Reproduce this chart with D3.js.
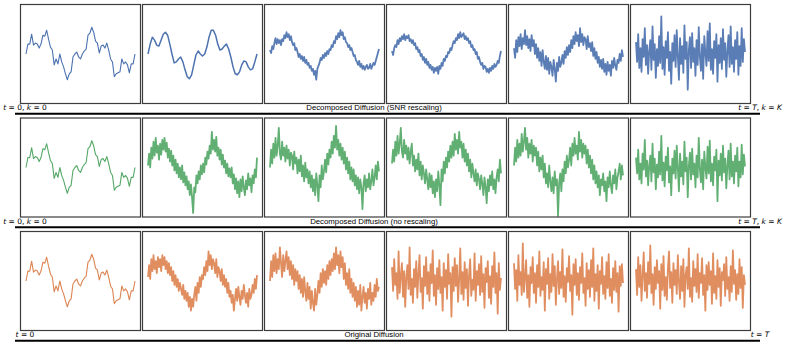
<!DOCTYPE html>
<html><head><meta charset="utf-8">
<script src="https://cdn.jsdelivr.net/npm/d3@7"></script>
<style>body{margin:0;background:#fff}svg{display:block}</style>
</head><body><svg id="c" width="785" height="346"></svg>
<script>
// ---------------- data ----------------
const rowTitles = ["Decomposed Diffusion (SNR rescaling)", "Decomposed Diffusion (no rescaling)", "Original Diffusion"];
const rowColors = ["#4c72b0", "#55a868", "#dd8452"];
const leftLabels = [
  [["t",1],[" = 0, ",0],["k",1],[" = 0",0]],
  [["t",1],[" = 0, ",0],["k",1],[" = 0",0]],
  [["t",1],[" = 0",0]]
];
const rightLabels = [
  [["t",1],[" = ",0],["T",1],[", ",0],["k",1],[" = ",0],["K",1]],
  [["t",1],[" = ",0],["T",1],[", ",0],["k",1],[" = ",0],["K",1]],
  [["t",1],[" = ",0],["T",1]]
];

const cleanSignal = [0,10,10,20,9,11,10,6,10,19,18,24,15,7,4,-11,-5,-10,0,-8,-13,-20,-26,-20,-18,-3,0,2,-3,-5,0,3,5,19,21,27,22,13,11,1,8,9,6,11,4,-5,-8,-23,-20,-19,-18,-5,-10,-8,-11,-19,-10,-10,0];
const smoothSignal = [0,10,17,14,9,8,14,20,22,19,10,0,-9,-8,-5,-3,-8,-16,-23,-25,-21,-11,-1,3,0,-2,0,7,17,24,24,19,10,4,5,8,10,5,-3,-13,-20,-21,-18,-11,-7,-8,-13,-16,-15,-8,0];

const r1c3 = [4,1,8,5,11, 16,10,15,11,14, 9,15,13,19,16, 22,17,20,14,18, 12,9,11,4,6, 2,-3,0,-5,-2, -7,-3,-9,-6,-11, -9,-14,-12,-17,-15, -21,-17,-26,-15,-12, -9,-4,-6,-1,-4, 1,-2,3,0,5, 4,9,7,13,11, 18,15,21,17,24, 19,22,15,17,12, 11,7,9,4,6, 2,-2,-1,-6,-8, -11,-7,-13,-10,-15, -12,-16,-13,-11,-15, -14,-10,-15,-12,-9, -11,-7,-3,1,5];
const r1c4 = [3,-1,6,9,7, 14,10,16,13,18, 15,20,14,18,16, 19,13,15,11,14, 9,11,5,7,2, 4,-2,0,-6,-3, -9,-5,-11,-8,-14, -11,-16,-13,-19,-14, -17,-13,-20,-12,-15, -9,-12,-5,-7,-2, -3,2,1,6,4, 9,13,11,16,14, 20,16,22,17,19, 21,15,18,14,16, 11,13,7,9,4, 5,0,2,-5,-3, -8,-11,-9,-15,-12, -13,-18,-15,-19,-14, -17,-12,-15,-10,-13, -11,-7,-9,-2,3];
const r1c5 = [6,-4,14,2,17, 8,20,5,16,10, 24,9,18,6,15, 3,19,8,14,0, 10,-4,6,-7,2, -12,4,-8,-15,-2, -16,-4,-20,-8,-13, -22,-6,-15,-28,-9, -17,-3,-13,-9,-1, -10,3,-4,7,-1, 9,2,14,6,18, 10,22,13,19,8, 26,12,20,9,17, 15,5,18,7,11, 3,12,-2,6,-5, 2,-9,-3,-13,-6, -15,-5,-18,-10,-21, -8,-17,-11,-22,-7, -14,-4,-12,-16,-6, -9,0,-7,4,-3];
const r1c6 = [12,-8,20,-14,6,-18,15,-3,26,-11, 9,-20,3,14,-16,28,-6,10,-24,5, -12,18,-9,38,-15,7,-21,13,-4,22, -17,2,-30,11,-7,19,-13,24,-2,-26, 16,-10,8,-19,29,-5,12,-36,4,17, -14,21,-8,6,-22,14,-11,27,-3,-17, 10,-25,18,1,-12,23,-7,31,-16,5, -20,13,-4,20,-28,9,-9,16,-15,25, -6,11,-23,3,19,-13,28,-10,7,-18, 14,-5,22,-21,8,-12,26,-8,15,2];

const r2c2 = [2,14,0,20,9, 26,12,30,15,22, 8,24,13,28,18, 30,16,25,10,19, 6,17,2,12,-3, 8,-6,4,-10,0, -12,2,-15,-5,-18, -9,-22,-14,-28,-17, -30,-46,-20,-25,-8, -16,-4,-12,2,-7, 4,-5,10,3,16, 9,22,14,36,18, 28,16,31,12,20, 8,18,3,13,0, 7,-6,4,-9,-1, -10,0,-16,-7,-22, -11,-26,-14,-30,-12, -24,-9,-20,-28,-13, -22,-6,-18,-11,-25, -8,-16,-2,-10,10];
const r2c3 = [0,18,4,24,10, 30,12,22,40,14, 8,26,12,20,6, 22,9,18,2,15, 12,-2,16,4,10, -6,8,-4,12,-9, 2,-14,5,-10,-2, -16,-4,-20,-8,-24, -12,-28,-6,-18,-34, -8,-20,2,-12,-4, 8,-5,14,3,18, 10,26,14,32,20, 42,18,28,12,24, 8,20,4,16,-2, 10,-6,6,-12,0, -14,-2,-18,-8,-22, -10,-26,-12,-20,-42, -16,-8,-24,-12,-20, -6,-22,-14,-2,-18, -10,2,-12,6,-4];
const r2c4 = [4,18,6,26,12, 32,14,24,40,16, 10,28,14,22,8, 20,4,16,24,2, 12,-4,8,-2,14, -8,6,-12,2,-6, -16,-2,-12,-22,-6, -20,-8,-26,-14,-30, -12,-24,-4,-18,-38, -2,-14,6,-6,10, 0,16,6,22,10, 26,12,34,18,28, 14,36,20,26,10, 24,6,18,2,14, -4,8,-10,4,-6, -14,-2,-18,-6,-12, -22,-8,-16,-28,-10, -20,-36,-12,-24,-8, -18,-4,-22,-12,-26, -10,-2,-14,8,-6];
const r2c5 = [2,20,6,28,10, 24,12,34,16,26, 40,18,30,10,24, 14,28,6,22,12, 20,2,16,-4,10, -2,12,-10,4,-16, -6,-20,2,-14,-24, -10,-26,-4,-18,-12, -49,-16,-6,-24,-2, -14,6,-6,12,0, 8,20,2,24,12, 30,14,22,8,36, 16,28,10,24,14, 22,4,18,0,12, -6,8,-12,2,-16, -4,-20,-8,-28,-12, -18,-6,-24,-14,-34, -10,-20,-4,-18,-26, -8,-16,-2,-22,-10, -4,4,-12,2,-8];
const r2c6 = [10,-6,18,-12,4,-16,14,-2,28,-9, 7,-18,2,12,-14,24,-5,9,-22,3, -10,16,-7,32,-13,5,-19,11,-3,20, -15,1,-28,9,-6,17,-11,22,-1,-24, 14,-9,6,-17,26,-4,10,-30,2,15, -12,19,-7,4,-20,12,-10,30,-2,-15, 8,-22,16,0,-11,21,-6,27,-14,4, -18,11,-3,18,-34,7,-8,14,-13,22, -5,9,-21,2,17,-12,24,-9,6,-16, 12,-4,20,-19,6,-10,23,-7,13,1];

const r3c2 = [4,16,2,22,10, 26,12,20,8,24, 14,22,10,26,16, 24,12,20,8,18, 6,14,0,10,-4, 6,-6,2,-10,-2, -8,-14,-4,-18,-10, -20,-12,-26,-16,-30, -18,-26,-14,-6,-20, -2,-12,4,-6,6, 2,14,6,20,10, 30,16,26,12,22, 18,8,22,4,14, 10,0,12,-4,6, -6,2,-12,-2,-16, -10,-22,-14,-30,-18, -8,-20,-6,-16,-24, -10,-18,-4,-14,-22, -12,-26,-8,-18,-14, -4,-12,2,-8,6];
const r3c3 = [0,20,4,26,10, 28,8,22,12,34, 18,4,26,10,20, 30,12,24,6,20, 2,16,-4,12,0, 10,-8,6,-12,2, -16,4,-10,-20,-2, -18,-6,-28,-10,-22, -30,-8,-24,-14,0, -12,8,-6,12,-2, 10,-4,16,2,20, 6,22,10,28,12, 34,16,26,8,30, 14,24,2,18,-4, 8,-8,12,-12,2, -16,-2,-20,-6,-26, -10,-24,-4,-30,-16, -6,-22,-12,-28,-8, -18,-2,-24,-12,-20, -4,-16,2,-10,-6];
const r3c4 = [14,-10,22,-4,8,-18,30,-12,5,18, -16,10,-26,4,16,-8,34,-14,2,-22, 12,-6,20,-17,7,26,-11,3,-28,15, -5,24,-13,9,-20,17,-2,31,-15,6, -24,13,-8,21,-12,4,-30,18,-6,11, -18,27,-3,8,-36,14,-10,23,-5,16, -21,2,33,-13,9,-19,19,-7,12,-25, 6,22,-15,1,-9,28,-20,10,-4,17, -14,25,-11,7,-27,13,-1,20,-17,5, -23,15,-6,29,-12,8,-33,18,-9,3];
const r3c5 = [18,-8,11,-20,26,-4,9,-14,38,-11, 3,21,-17,6,-26,14,-2,24,-12,8, -22,16,-6,30,-15,4,-9,19,-30,12, -3,23,-18,7,-11,27,-5,15,-24,2, 20,-13,9,-7,32,-16,5,-21,13,-1, 25,-10,6,-34,17,-4,22,-14,8,-19, 14,-2,28,-12,3,-25,18,-8,11,-16, 21,-6,33,-20,7,-10,16,-28,10,-3, 24,-13,5,-18,19,-7,27,-15,2,-22, 13,-9,20,-11,8,-31,15,-5,17,-2];
const r3c6 = [12,-14,24,-6,16,-20,5,29,-10,8, -17,19,-3,36,-12,7,-24,14,-8,21, -2,10,-28,17,-9,25,-15,4,-19,13, 30,-7,9,-22,18,-4,11,-13,26,-1, -18,15,-10,22,-26,6,14,-8,33,-16, 3,-21,20,-5,12,-11,27,-17,8,-2, 23,-14,6,-30,16,-9,19,-4,10,-23, 28,-12,5,-18,21,-6,13,-25,9,1, 17,-15,24,-8,4,-20,15,-11,31,-3, 11,-19,7,-13,22,-7,14,-27,6,-4];

const panelData = [
  [cleanSignal, smoothSignal, r1c3, r1c4, r1c5, r1c6],
  [cleanSignal, r2c2, r2c3, r2c4, r2c5, r2c6],
  [cleanSignal, r3c2, r3c3, r3c4, r3c5, r3c6]
];
const valueDomain = [-50, 50];

// ---------------- layout ----------------
const svg = d3.select("#c");
const panelW = 120, panelH = 99, gapX = 2, left0 = 20.5;
const rowTops = [4.5, 118, 231.5];
const padX = 5.5;

rowTops.forEach((top, r) => {
  const color = rowColors[r];
  panelData[r].forEach((vals, c) => {
    const x0 = left0 + c * (panelW + gapX);
    const g = svg.append("g");
    const xs = d3.scaleLinear().domain([0, vals.length - 1]).range([x0 + padX, x0 + panelW - padX]);
    const ys = d3.scaleLinear().domain(valueDomain).range([top + panelH, top]);
    const noisy = c >= 2 || (c === 1 && r > 0);
    g.append("path")
      .datum(vals)
      .attr("fill", "none")
      .attr("stroke", color)
      .attr("stroke-width", c === 0 ? 1.1 : (noisy ? 1.8 : 1.5))
      .attr("stroke-opacity", noisy ? 0.92 : 1)
      .attr("stroke-linejoin", "round")
      .attr("d", d3.line().x((d, i) => xs(i)).y(d => ys(d)));
    g.append("rect")
      .attr("x", x0).attr("y", top)
      .attr("width", panelW).attr("height", panelH)
      .attr("fill", "none").attr("stroke", "#3c3c3c").attr("stroke-width", 1.2);
  });
  const bottom = top + panelH;
  const base = bottom + 6.5;
  const addLabel = (parts, x, anchor) => {
    const t = svg.append("text").attr("x", x).attr("y", base)
      .attr("text-anchor", anchor)
      .attr("font-family", "DejaVu Sans").attr("font-size", 7.5).attr("fill", "#000");
    parts.forEach(([s, it]) => t.append("tspan").attr("font-style", it ? "italic" : "normal").text(s));
  };
  addLabel(leftLabels[r], 25, "middle");
  addLabel(rightLabels[r], 760, "middle");
  svg.append("text").attr("x", 374).attr("y", base)
    .attr("text-anchor", "middle")
    .attr("font-family", "Liberation Sans, Arial, sans-serif").attr("font-size", 7.8)
    .attr("fill", "#000").text(rowTitles[r]);
  svg.append("line")
    .attr("x1", 15).attr("x2", 760)
    .attr("y1", bottom + 10.3).attr("y2", bottom + 10.3)
    .attr("stroke", "#000").attr("stroke-width", 2);
});
</script></body></html>
